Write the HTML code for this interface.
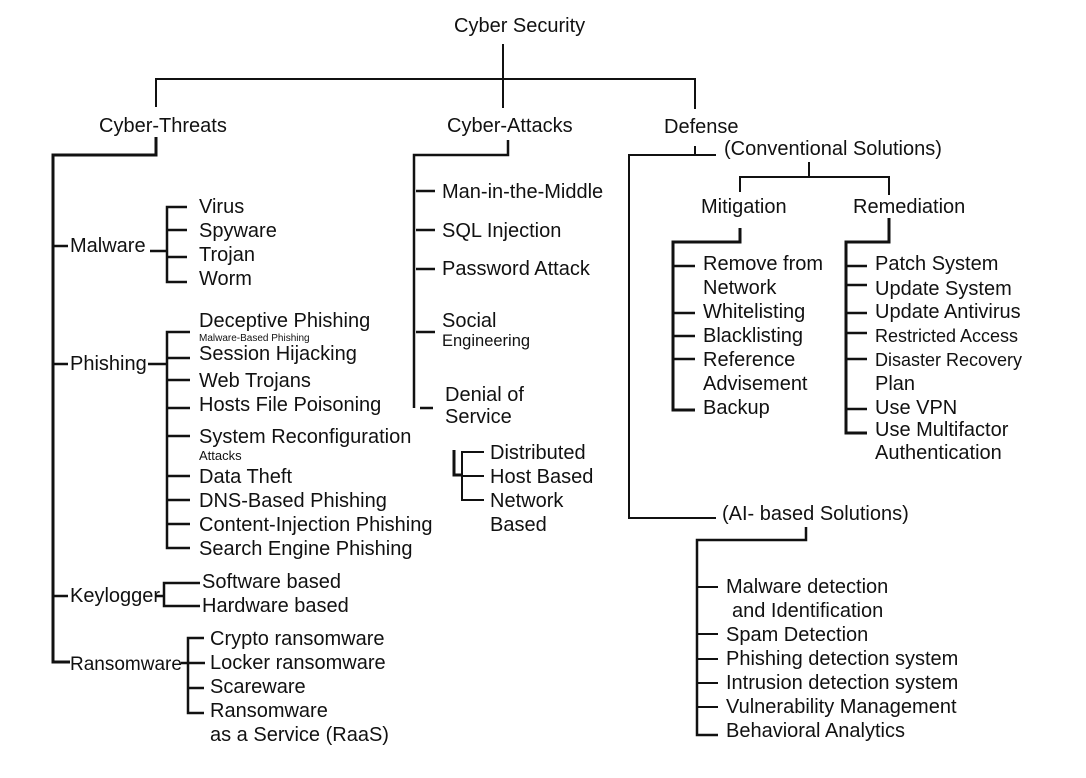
<!DOCTYPE html>
<html><head><meta charset="utf-8"><style>
html,body{margin:0;padding:0;background:#fff;}
svg{display:block}
text{font-family:"Liberation Sans",Arial,sans-serif;font-size:20px;fill:#111;}
</style></head><body>
<svg width="1086" height="778" viewBox="0 0 1086 778" xmlns="http://www.w3.org/2000/svg">
<g stroke="#111" fill="none" stroke-width="2">
<path d="M503 44V108 M156 107V79H695V109"/>
<path d="M156 137V155H53V662H70" stroke-width="3"/>
<path d="M53 246H68 M53 364H68 M53 596H68" stroke-width="2.5"/>
<path d="M150 251H167 M187 207H167V282H187 M167 230H187 M167 257H187" stroke-width="2.5"/>
<path d="M148 364H167 M190 332H167V548H190 M167 358H190 M167 380H190 M167 408H190 M167 436H190 M167 476H190 M167 500H190 M167 524H190" stroke-width="2.5"/>
<path d="M155 596H164 M200 583H164V606H200" stroke-width="2.5"/>
<path d="M181 663H205 M204 638H188V713H204 M188 688H204" stroke-width="2.5"/>
<path d="M508 140V155H414V408" stroke-width="2.5"/>
<path d="M416 191H435 M416 230H435 M416 269H435 M416 332H435 M420 408H433" stroke-width="2.5"/>
<path d="M454 450V475H462" stroke-width="3"/>
<path d="M484 452H462V500H484 M462 476H484" stroke-width="2"/>
<path d="M695 146V155 M716 155H629V518H716" stroke-width="2"/>
<path d="M809 162V177 M740 192V177H889V195" stroke-width="2"/>
<path d="M740 228V242H673V410H695" stroke-width="3"/>
<path d="M673 266H695 M673 313H695 M673 336H695 M673 359H695" stroke-width="2.5"/>
<path d="M889 218V242H846V433H867" stroke-width="3"/>
<path d="M846 266H867 M846 285H867 M846 313H867 M846 333H867 M846 359H867 M846 409H867" stroke-width="2.5"/>
<path d="M806 527V540H697V735H718" stroke-width="2.5"/>
<path d="M697 587H718 M697 634H718 M697 659H718 M697 683H718 M697 707H718" stroke-width="2"/>
</g>
<text x="454" y="32">Cyber Security</text>
<text x="99" y="132">Cyber-Threats</text>
<text x="447" y="132">Cyber-Attacks</text>
<text x="664" y="133">Defense</text>

<text x="70" y="252">Malware</text>
<text x="199" y="213">Virus</text>
<text x="199" y="237">Spyware</text>
<text x="199" y="261">Trojan</text>
<text x="199" y="285">Worm</text>

<text x="70" y="370">Phishing</text>
<text x="199" y="327">Deceptive Phishing</text>
<text x="199" y="341" style="font-size:10px">Malware-Based Phishing</text>
<text x="199" y="360">Session Hijacking</text>
<text x="199" y="387">Web Trojans</text>
<text x="199" y="411">Hosts File Poisoning</text>
<text x="199" y="443">System Reconfiguration</text>
<text x="199" y="460" style="font-size:13px">Attacks</text>
<text x="199" y="483">Data Theft</text>
<text x="199" y="507">DNS-Based Phishing</text>
<text x="199" y="531">Content-Injection Phishing</text>
<text x="199" y="555">Search Engine Phishing</text>

<text x="70" y="602">Keylogger</text>
<text x="202" y="588">Software based</text>
<text x="202" y="612">Hardware based</text>

<text x="70" y="670" style="font-size:19px">Ransomware</text>
<text x="210" y="645">Crypto ransomware</text>
<text x="210" y="669">Locker ransomware</text>
<text x="210" y="693">Scareware</text>
<text x="210" y="717">Ransomware</text>
<text x="210" y="741">as a Service (RaaS)</text>

<text x="442" y="198">Man-in-the-Middle</text>
<text x="442" y="237">SQL Injection</text>
<text x="442" y="275">Password Attack</text>
<text x="442" y="327">Social</text>
<text x="442" y="346" style="font-size:16.5px">Engineering</text>
<text x="445" y="401">Denial of</text>
<text x="445" y="423">Service</text>
<text x="490" y="459">Distributed</text>
<text x="490" y="483">Host Based</text>
<text x="490" y="507">Network</text>
<text x="490" y="531">Based</text>

<text x="724" y="155">(Conventional Solutions)</text>
<text x="701" y="213">Mitigation</text>
<text x="853" y="213">Remediation</text>
<text x="703" y="270">Remove from</text>
<text x="703" y="294">Network</text>
<text x="703" y="318">Whitelisting</text>
<text x="703" y="342">Blacklisting</text>
<text x="703" y="366">Reference</text>
<text x="703" y="390">Advisement</text>
<text x="703" y="414">Backup</text>

<text x="875" y="270">Patch System</text>
<text x="875" y="295">Update System</text>
<text x="875" y="318">Update Antivirus</text>
<text x="875" y="342" style="font-size:18px">Restricted Access</text>
<text x="875" y="366" style="font-size:18px">Disaster Recovery</text>
<text x="875" y="390">Plan</text>
<text x="875" y="414">Use VPN</text>
<text x="875" y="436">Use Multifactor</text>
<text x="875" y="459">Authentication</text>

<text x="722" y="520">(AI- based Solutions)</text>
<text x="726" y="593">Malware detection</text>
<text x="732" y="617">and Identification</text>
<text x="726" y="641">Spam Detection</text>
<text x="726" y="665">Phishing detection system</text>
<text x="726" y="689">Intrusion detection system</text>
<text x="726" y="713">Vulnerability Management</text>
<text x="726" y="737">Behavioral Analytics</text>
</svg>
</body></html>
